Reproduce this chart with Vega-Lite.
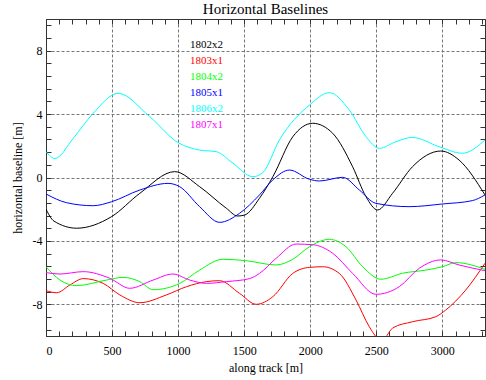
{
  "$schema": "https://vega.github.io/schema/vega-lite/v6.json",
  "autosize": "none",
  "width": 439,
  "height": 317,
  "padding": {"left": 46, "top": 19, "right": 1, "bottom": 44},
  "background": "white",
  "title": {"text": "Horizontal Baselines", "font": "Liberation Serif", "fontSize": 15, "fontWeight": "normal", "color": "black", "anchor": "middle", "offset": 2},
  "config": {
    "view": {"stroke": "#333", "strokeWidth": 1},
    "axis": {"labelFont": "Liberation Serif", "titleFont": "Liberation Serif", "labelFontSize": 12, "titleFontSize": 12, "titleFontWeight": "normal", "labelColor": "black", "titleColor": "black", "domainColor": "#333", "tickColor": "#333", "labelOverlap": false}
  },
  "data": {"values": [
    {"s":"1802x2","x":0,"y":-2.0},{"s":"1802x2","x":60,"y":-2.75},{"s":"1802x2","x":232,"y":-3.2},{"s":"1802x2","x":496,"y":-2.47},{"s":"1802x2","x":710,"y":-1.0},{"s":"1802x2","x":974,"y":0.37},{"s":"1802x2","x":1163,"y":-0.58},{"s":"1802x2","x":1365,"y":-1.94},{"s":"1802x2","x":1450,"y":-2.43},{"s":"1802x2","x":1503,"y":-2.37},{"s":"1802x2","x":1616,"y":-1.31},{"s":"1802x2","x":1717,"y":0.05},{"s":"1802x2","x":1868,"y":2.57},{"s":"1802x2","x":2019,"y":3.42},{"s":"1802x2","x":2170,"y":2.79},{"s":"1802x2","x":2321,"y":0.68},{"s":"1802x2","x":2422,"y":-1.21},{"s":"1802x2","x":2510,"y":-2.05},{"s":"1802x2","x":2623,"y":-1.0},{"s":"1802x2","x":2774,"y":0.68},{"s":"1802x2","x":2988,"y":1.67},{"s":"1802x2","x":3127,"y":1.1},{"s":"1802x2","x":3323,"y":-1.1},
    {"s":"1803x1","x":0,"y":-7.14},{"s":"1803x1","x":81,"y":-7.27},{"s":"1803x1","x":181,"y":-6.78},{"s":"1803x1","x":282,"y":-6.38},{"s":"1803x1","x":433,"y":-6.68},{"s":"1803x1","x":559,"y":-7.41},{"s":"1803x1","x":710,"y":-7.9},{"s":"1803x1","x":911,"y":-7.41},{"s":"1803x1","x":1063,"y":-6.89},{"s":"1803x1","x":1214,"y":-6.57},{"s":"1803x1","x":1314,"y":-6.51},{"s":"1803x1","x":1465,"y":-7.31},{"s":"1803x1","x":1591,"y":-8.0},{"s":"1803x1","x":1717,"y":-7.52},{"s":"1803x1","x":1868,"y":-6.05},{"s":"1803x1","x":1994,"y":-5.67},{"s":"1803x1","x":2094,"y":-5.63},{"s":"1803x1","x":2220,"y":-6.05},{"s":"1803x1","x":2347,"y":-7.73},{"s":"1803x1","x":2447,"y":-9.41},{"s":"1803x1","x":2540,"y":-10.3},{"s":"1803x1","x":2623,"y":-9.51},{"s":"1803x1","x":2774,"y":-9.1},{"s":"1803x1","x":2951,"y":-8.78},{"s":"1803x1","x":3026,"y":-8.36},{"s":"1803x1","x":3177,"y":-7.1},{"s":"1803x1","x":3323,"y":-5.41},
    {"s":"1804x2","x":0,"y":-5.63},{"s":"1804x2","x":106,"y":-6.47},{"s":"1804x2","x":232,"y":-6.82},{"s":"1804x2","x":458,"y":-6.47},{"s":"1804x2","x":584,"y":-6.3},{"s":"1804x2","x":710,"y":-6.57},{"s":"1804x2","x":811,"y":-7.08},{"s":"1804x2","x":1012,"y":-6.68},{"s":"1804x2","x":1163,"y":-5.84},{"s":"1804x2","x":1339,"y":-5.16},{"s":"1804x2","x":1516,"y":-5.25},{"s":"1804x2","x":1742,"y":-5.52},{"s":"1804x2","x":1868,"y":-5.16},{"s":"1804x2","x":1994,"y":-4.37},{"s":"1804x2","x":2145,"y":-3.9},{"s":"1804x2","x":2271,"y":-4.37},{"s":"1804x2","x":2397,"y":-5.63},{"s":"1804x2","x":2535,"y":-6.42},{"s":"1804x2","x":2699,"y":-6.04},{"s":"1804x2","x":2875,"y":-5.84},{"s":"1804x2","x":3001,"y":-5.63},{"s":"1804x2","x":3102,"y":-5.37},{"s":"1804x2","x":3323,"y":-5.79},
    {"s":"1805x1","x":0,"y":-1.04},{"s":"1805x1","x":156,"y":-1.59},{"s":"1805x1","x":357,"y":-1.78},{"s":"1805x1","x":496,"y":-1.53},{"s":"1805x1","x":710,"y":-0.79},{"s":"1805x1","x":924,"y":-0.37},{"s":"1805x1","x":1012,"y":-0.58},{"s":"1805x1","x":1163,"y":-1.84},{"s":"1805x1","x":1314,"y":-2.83},{"s":"1805x1","x":1465,"y":-2.26},{"s":"1805x1","x":1616,"y":-1.1},{"s":"1805x1","x":1717,"y":-0.15},{"s":"1805x1","x":1843,"y":0.47},{"s":"1805x1","x":1994,"y":-0.11},{"s":"1805x1","x":2069,"y":-0.22},{"s":"1805x1","x":2246,"y":0.01},{"s":"1805x1","x":2372,"y":-0.79},{"s":"1805x1","x":2497,"y":-1.63},{"s":"1805x1","x":2749,"y":-1.84},{"s":"1805x1","x":3001,"y":-1.67},{"s":"1805x1","x":3227,"y":-1.46},{"s":"1805x1","x":3323,"y":-1.1},
    {"s":"1806x2","x":0,"y":1.63},{"s":"1806x2","x":68,"y":1.2},{"s":"1806x2","x":206,"y":2.47},{"s":"1806x2","x":357,"y":4.05},{"s":"1806x2","x":546,"y":5.31},{"s":"1806x2","x":785,"y":3.84},{"s":"1806x2","x":1000,"y":2.2},{"s":"1806x2","x":1163,"y":1.73},{"s":"1806x2","x":1289,"y":1.63},{"s":"1806x2","x":1415,"y":0.9},{"s":"1806x2","x":1566,"y":0.05},{"s":"1806x2","x":1640,"y":0.3},{"s":"1806x2","x":1767,"y":2.37},{"s":"1806x2","x":1994,"y":4.57},{"s":"1806x2","x":2145,"y":5.35},{"s":"1806x2","x":2296,"y":4.26},{"s":"1806x2","x":2422,"y":2.58},{"s":"1806x2","x":2523,"y":1.84},{"s":"1806x2","x":2649,"y":2.26},{"s":"1806x2","x":2774,"y":2.53},{"s":"1806x2","x":2976,"y":1.94},{"s":"1806x2","x":3152,"y":1.53},{"s":"1806x2","x":3323,"y":2.37},
    {"s":"1807x1","x":0,"y":-6.0},{"s":"1807x1","x":106,"y":-6.09},{"s":"1807x1","x":282,"y":-5.94},{"s":"1807x1","x":483,"y":-6.36},{"s":"1807x1","x":634,"y":-6.99},{"s":"1807x1","x":811,"y":-6.47},{"s":"1807x1","x":961,"y":-6.09},{"s":"1807x1","x":1088,"y":-6.47},{"s":"1807x1","x":1214,"y":-6.68},{"s":"1807x1","x":1365,"y":-6.57},{"s":"1807x1","x":1541,"y":-6.38},{"s":"1807x1","x":1616,"y":-6.05},{"s":"1807x1","x":1742,"y":-5.1},{"s":"1807x1","x":1893,"y":-4.2},{"s":"1807x1","x":2019,"y":-4.24},{"s":"1807x1","x":2170,"y":-4.78},{"s":"1807x1","x":2321,"y":-6.05},{"s":"1807x1","x":2497,"y":-7.37},{"s":"1807x1","x":2674,"y":-6.89},{"s":"1807x1","x":2825,"y":-5.73},{"s":"1807x1","x":2988,"y":-5.2},{"s":"1807x1","x":3127,"y":-5.52},{"s":"1807x1","x":3323,"y":-5.88}
  ]},
  "resolve": {"axis": {"x": "independent", "y": "independent"}},
  "layer": [
    {
      "mark": {"type": "line", "opacity": 0, "interpolate": "monotone"},
      "encoding": {
        "x": {"field": "x", "type": "quantitative", "scale": {"domain": [0, 3323], "nice": false, "zero": false},
          "axis": {"orient": "top", "values": [0,100,200,300,400,500,600,700,800,900,1000,1100,1200,1300,1400,1500,1600,1700,1800,1900,2000,2100,2200,2300,2400,2500,2600,2700,2800,2900,3000,3100,3200,3300], "labels": false, "title": null, "grid": false, "tickSize": -5, "domain": true}},
        "y": {"field": "y", "type": "quantitative", "scale": {"domain": [-10, 10], "nice": false, "zero": false},
          "axis": {"orient": "right", "values": [-9.6,-8.8,-8,-7.2,-6.4,-5.6,-4.8,-4,-3.2,-2.4,-1.6,-0.8,0,0.8,1.6,2.4,3.2,4,4.8,5.6,6.4,7.2,8,8.8,9.6], "labels": false, "title": null, "grid": false, "tickSize": -5, "domain": true}},
        "detail": {"field": "s"}
      }
    },
    {
      "mark": {"type": "line", "strokeWidth": 1, "interpolate": "monotone", "clip": true},
      "encoding": {
        "x": {"field": "x", "type": "quantitative", "scale": {"domain": [0, 3323], "nice": false, "zero": false},
          "axis": {"orient": "bottom", "values": [0,100,200,300,400,500,600,700,800,900,1000,1100,1200,1300,1400,1500,1600,1700,1800,1900,2000,2100,2200,2300,2400,2500,2600,2700,2800,2900,3000,3100,3200,3300],
            "labelExpr": "datum.value % 500 === 0 ? '' + datum.value : ''", "title": "along track [m]", "tickSize": -5, "labelPadding": 14, "titlePadding": 6,
            "grid": true, "gridColor": "#777", "gridDash": [3, 2], "gridOpacity": {"condition": {"test": "datum.value % 500 === 0", "value": 1}, "value": 0}}},
        "y": {"field": "y", "type": "quantitative", "scale": {"domain": [-10, 10], "nice": false, "zero": false},
          "axis": {"orient": "left", "values": [-9.6,-8.8,-8,-7.2,-6.4,-5.6,-4.8,-4,-3.2,-2.4,-1.6,-0.8,0,0.8,1.6,2.4,3.2,4,4.8,5.6,6.4,7.2,8,8.8,9.6],
            "labelExpr": "abs(datum.value % 4) < 0.001 ? '' + datum.value : ''", "title": "horizontal baseline [m]", "tickSize": -5, "labelPadding": 9, "titlePadding": 8,
            "grid": true, "gridColor": "#777", "gridDash": [3, 2], "gridOpacity": {"condition": {"test": "abs(datum.value % 4) < 0.001", "value": 1}, "value": 0}}},
        "color": {"field": "s", "type": "nominal",
          "scale": {"domain": ["1802x2","1803x1","1804x2","1805x1","1806x2","1807x1"], "range": ["#000000","#ff0000","#00ff00","#0000ff","#00ffff","#ff00ff"]},
          "legend": {"orient": "none", "legendX": 133, "legendY": 20, "title": null, "symbolSize": 0, "symbolStrokeWidth": 0, "symbolOpacity": 0, "labelOffset": 0,
            "labelFont": "Liberation Serif", "labelFontSize": 11, "rowPadding": 4,
            "encode": {"labels": {"update": {"fill": {"scale": "color", "field": "value"}}}}}}
      }
    }
  ]
}
